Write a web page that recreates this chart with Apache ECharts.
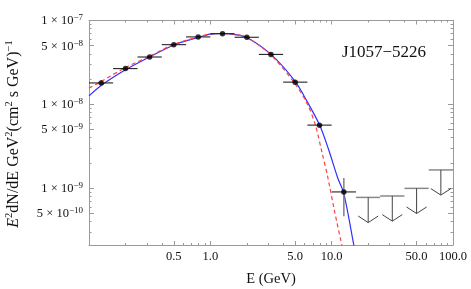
<!DOCTYPE html>
<html><head><meta charset="utf-8">
<script src="https://cdn.jsdelivr.net/npm/echarts@6/dist/echarts.min.js"></script>
<style>html,body{margin:0;padding:0;background:#fff}#c{width:471px;height:289px}</style>
</head><body><div id="c"></div>
<script>
// ---- data (energies in GeV, E^2 dN/dE in GeV cm^-2 s^-1) ----
const energy   = [0.126, 0.2, 0.316, 0.5, 0.794, 1.26, 2.0, 3.16, 5.0, 7.94, 12.6];
const binLow   = [0.1, 0.158, 0.251, 0.398, 0.631, 1.0, 1.585, 2.512, 3.981, 6.31, 10.0];
const binHigh  = [0.158, 0.251, 0.398, 0.631, 1.0, 1.585, 2.512, 3.981, 6.31, 10.0, 15.85];
const flux     = [1.80e-8, 2.67e-8, 3.67e-8, 5.15e-8, 6.37e-8, 6.96e-8, 6.31e-8, 3.94e-8, 1.84e-8, 5.65e-9, 9.02e-10];
const fluxLow  = [1.66e-8, 2.59e-8, 3.56e-8, 5.00e-8, 6.18e-8, 6.75e-8, 6.12e-8, 3.82e-8, 1.78e-8, 5.45e-9, 4.61e-10];
const fluxHigh = [1.95e-8, 2.75e-8, 3.78e-8, 5.30e-8, 6.56e-8, 7.17e-8, 6.50e-8, 4.06e-8, 1.90e-8, 5.85e-9, 1.32e-9];

const ulEnergy  = [20.0, 31.6, 50.1, 79.4];
const ulBinLow  = [15.85, 25.1, 39.8, 63.1];
const ulBinHigh = [25.1, 39.8, 63.1, 100.0];
const ulFlux    = [7.76e-10, 8.07e-10, 9.95e-10, 1.65e-9];

// model curves
const blueE = [0.1, 0.126, 0.2, 0.316, 0.5, 0.794, 1.0, 1.26, 1.6, 2.0, 3.16, 5.0, 6.3, 7.94, 9.45, 11.2, 12.6, 15.2, 17.0];
const blueF = [1.26e-8, 1.68e-8, 2.58e-8, 3.67e-8, 5.11e-8, 6.28e-8, 6.87e-8, 7.0e-8, 6.78e-8, 6.28e-8, 3.94e-8, 1.88e-8, 1.07e-8, 5.70e-9, 2.87e-9, 1.33e-9, 8.6e-10, 2.12e-10, 9e-11];
const redE  = [0.1, 0.126, 0.2, 0.316, 0.5, 0.794, 1.0, 1.26, 1.6, 2.0, 3.16, 5.0, 6.3, 7.34, 8.33, 9.27, 10.5, 12.1, 13.0];
const redF  = [1.56e-8, 1.87e-8, 2.75e-8, 3.75e-8, 5.18e-8, 6.37e-8, 6.9e-8, 7.0e-8, 6.8e-8, 6.28e-8, 3.88e-8, 1.75e-8, 1.01e-8, 5.67e-9, 2.65e-9, 1.37e-9, 5.55e-10, 2.12e-10, 1.33e-10];

// axes
const xRange = [0.1, 100];
const yRange = [2.1e-10, 1e-7];
const xTickValues = [0.5, 1, 5, 10, 50, 100];
const xTickLabels = ['0.5', '1.0', '5.0', '10.0', '50.0', '100.0'];
const yTickValues = [5e-10, 1e-9, 5e-9, 1e-8, 5e-8, 1e-7];
const yTickMant   = ['5', '1', '5', '1', '5', '1'];
const yTickExp    = ['10', '9', '9', '8', '8', '7'];
const sourceName = 'J1057\u22125226';

// ---- build ----
const L = Math.log10;
const SERIF = '"Liberation Serif","DejaVu Serif",serif';
const frame = '#9a9a9a';

function decadeTicks(lo, hi, mults) {
  const out = [];
  for (let d = Math.floor(L(lo)) - 1; d <= Math.ceil(L(hi)); d++) {
    for (const m of mults) {
      const v = m * Math.pow(10, d);
      if (v >= lo * 0.999 && v <= hi * 1.001) out.push(L(v));
    }
  }
  return out;
}
const xMajor = decadeTicks(xRange[0], xRange[1], [1, 5]);
const xMinor = decadeTicks(xRange[0], xRange[1], [2, 3, 4, 6, 7, 8, 9]);
const yMajor = decadeTicks(yRange[0], yRange[1], [1, 5]);
const yMinor = decadeTicks(yRange[0], yRange[1], [2, 3, 4, 6, 7, 8, 9]);

function nearestIdx(arr, v) {
  let b = 0, bd = 1e9;
  arr.forEach((a, i) => { const d = Math.abs(L(a) - v); if (d < bd) { bd = d; b = i; } });
  return b;
}

function xAxisDef(pos, major, labels) {
  return {
    type: 'value', position: pos, min: L(xRange[0]), max: L(xRange[1]),
    axisLine: { show: major, onZero: false, lineStyle: { color: frame, width: 1 } },
    axisTick: { show: true, inside: true, length: major ? 4 : 2, customValues: major ? xMajor : xMinor,
                lineStyle: { color: frame, width: 1 } },
    axisLabel: labels ? {
      show: true, customValues: xTickValues.map(L), margin: 5,
      fontFamily: SERIF, fontSize: 12.5, color: '#111',
      formatter: v => xTickLabels[nearestIdx(xTickValues, v)]
    } : { show: false },
    splitLine: { show: false },
    name: labels ? 'E (GeV)' : '', nameLocation: 'middle', nameGap: 27,
    nameTextStyle: { fontFamily: SERIF, fontSize: 14.5, color: '#111' }
  };
}
function yAxisDef(pos, major, labels) {
  return {
    type: 'value', position: pos, min: L(yRange[0]), max: L(yRange[1]),
    axisLine: { show: major, onZero: false, lineStyle: { color: frame, width: 1 } },
    axisTick: { show: true, inside: true, length: major ? 5 : 2.5, customValues: major ? yMajor : yMinor,
                lineStyle: { color: frame, width: 1 } },
    axisLabel: labels ? {
      show: true, customValues: yTickValues.map(L), margin: 6,
      formatter: v => { const i = nearestIdx(yTickValues, v); return '{m|' + yTickMant[i] + ' \u00d7 10}{s|\u2212' + yTickExp[i] + '}'; },
      rich: {
        m: { fontFamily: SERIF, fontSize: 12.5, color: '#111', lineHeight: 14, verticalAlign: 'bottom', padding: [3, 0, 0, 0] },
        s: { fontFamily: SERIF, fontSize: 9, color: '#111', lineHeight: 10, verticalAlign: 'top' }
      }
    } : { show: false },
    splitLine: { show: false }
  };
}

const pointData = energy.map((e, i) => [L(e), L(flux[i]), L(binLow[i]), L(binHigh[i]), L(fluxLow[i]), L(fluxHigh[i])]);
const ulData = ulEnergy.map((e, i) => [L(e), L(ulFlux[i]), L(ulBinLow[i]), L(ulBinHigh[i])]);
const arrowDex = 0.3;

const option = {
  animation: false,
  backgroundColor: '#fff',
  grid: { left: 89, right: 18, top: 20.5, bottom: 44, containLabel: false, outerBoundsMode: 'none' },
  xAxis: [xAxisDef('bottom', true, true), xAxisDef('bottom', false, false), xAxisDef('top', true, false), xAxisDef('top', false, false)],
  yAxis: [yAxisDef('left', true, true), yAxisDef('left', false, false), yAxisDef('right', true, false), yAxisDef('right', false, false)],
  graphic: [
    {
      type: 'text', x: 13, y: 134, rotation: Math.PI / 2,
      style: {
        text: '{i|E}{s|2}{m|dN/dE GeV}{s|2}{m|(cm}{s|2}{m| s GeV)}{s|\u22121}',
        align: 'center', verticalAlign: 'middle',
        rich: {
          i: { fontFamily: SERIF, fontSize: 16, fontStyle: 'italic', fill: '#111', lineHeight: 18, verticalAlign: 'bottom' },
          m: { fontFamily: SERIF, fontSize: 16, fill: '#111', lineHeight: 18, verticalAlign: 'bottom' },
          s: { fontFamily: SERIF, fontSize: 10.5, fill: '#111', lineHeight: 12, verticalAlign: 'top' }
        }
      }
    },
    {
      type: 'text', x: 384, y: 53,
      style: { text: sourceName, fontFamily: SERIF, fontSize: 17, fill: '#111', align: 'center', verticalAlign: 'middle' }
    }
  ],
  series: [
    {
      type: 'line', xAxisIndex: 0, yAxisIndex: 0, data: blueE.map((e, i) => [L(e), L(blueF[i])]),
      showSymbol: false, smooth: 0.3, clip: true,
      lineStyle: { color: '#3030ff', width: 1.2 }, z: 2
    },
    {
      type: 'line', xAxisIndex: 0, yAxisIndex: 0, data: redE.map((e, i) => [L(e), L(redF[i])]),
      showSymbol: false, smooth: 0.3, clip: true,
      lineStyle: { color: '#ff4040', width: 1.2, type: [4, 3] }, z: 3
    },
    {
      type: 'custom', xAxisIndex: 0, yAxisIndex: 0, data: pointData, z: 4,
      renderItem: (params, api) => {
        const c = api.coord([api.value(0), api.value(1)]);
        const xl = api.coord([api.value(2), api.value(1)]);
        const xh = api.coord([api.value(3), api.value(1)]);
        const yl = api.coord([api.value(0), api.value(4)]);
        const yh = api.coord([api.value(0), api.value(5)]);
        return { type: 'group', children: [
          { type: 'line', shape: { x1: c[0], y1: yl[1], x2: c[0], y2: yh[1] }, style: { stroke: '#808080', lineWidth: 1.5 } },
          { type: 'line', shape: { x1: xl[0], y1: c[1], x2: xh[0], y2: c[1] }, style: { stroke: '#222', lineWidth: 1.1 } }
        ] };
      }
    },
    {
      type: 'scatter', xAxisIndex: 0, yAxisIndex: 0, data: energy.map((e, i) => [L(e), L(flux[i])]),
      symbol: 'circle', symbolSize: 5.5, itemStyle: { color: '#000' }, z: 5
    },
    {
      type: 'custom', xAxisIndex: 0, yAxisIndex: 0, data: ulData, z: 4,
      renderItem: (params, api) => {
        const c = api.coord([api.value(0), api.value(1)]);
        const xl = api.coord([api.value(2), api.value(1)]);
        const xh = api.coord([api.value(3), api.value(1)]);
        const tip = api.coord([api.value(0), api.value(1) - arrowDex]);
        return { type: 'group', children: [
          { type: 'line', shape: { x1: xl[0], y1: c[1], x2: xh[0], y2: c[1] }, style: { stroke: '#888', lineWidth: 1.5 } },
          { type: 'line', shape: { x1: c[0], y1: c[1], x2: c[0], y2: tip[1] }, style: { stroke: '#444', lineWidth: 1 } },
          { type: 'polyline', shape: { points: [[c[0] - 10, tip[1] - 6.5], [c[0], tip[1]], [c[0] + 10, tip[1] - 6.5]] }, style: { stroke: '#444', lineWidth: 1, fill: null } }
        ] };
      }
    }
  ]
};

const chart = echarts.init(document.getElementById('c'), null, { renderer: 'canvas' });
chart.setOption(option);
</script>
</body></html>
